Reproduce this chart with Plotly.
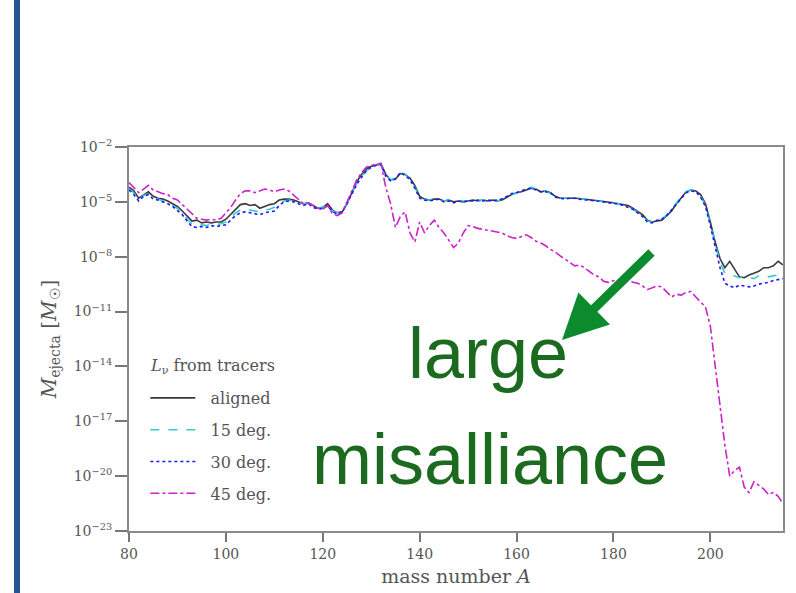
import numpy as np
import plotly.graph_objects as go

# mass number grid
mass_number = list(range(80, 216))

# log10 of ejected mass per mass number, one list per viewing angle
log_m_aligned = [
    -4.2, -4.4, -4.8, -4.6, -4.45, -4.7, -4.8, -4.85, -4.95, -5.1,
    -5.25, -5.5, -5.8, -6.05, -6.0, -6.15, -6.1, -6.15, -6.1, -6.1,
    -5.95, -5.7, -5.4, -5.15, -5.1, -5.2, -5.15, -5.35, -5.25, -5.15,
    -5.1, -4.9, -4.85, -4.85, -4.9, -5.0, -5.1, -5.05, -5.2, -5.35,
    -5.3, -5.1, -5.45, -5.6, -5.55, -5.1, -4.5, -3.9, -3.5, -3.2,
    -3.05, -3.0, -2.9, -3.5, -3.8, -3.75, -3.45, -3.5, -3.7, -4.1,
    -4.7, -4.85, -4.9, -4.85, -4.85, -4.95, -4.9, -5.0, -4.95, -5.0,
    -4.95, -4.9, -4.95, -4.9, -4.95, -4.9, -4.95, -4.9, -4.75, -4.6,
    -4.5, -4.45, -4.35, -4.25, -4.3, -4.45, -4.4, -4.5, -4.7, -4.8,
    -4.8, -4.78, -4.8, -4.82, -4.85, -4.9, -4.9, -4.95, -5.0, -5.0,
    -5.05, -5.1, -5.15, -5.2, -5.35, -5.55, -5.7, -6.0, -6.1, -6.05,
    -6.0, -5.75, -5.5, -5.1, -4.75, -4.45, -4.35, -4.4, -4.6, -5.1,
    -6.1, -7.2, -8.1, -8.6, -8.25, -8.7, -9.1, -9.15, -9.0, -8.9,
    -8.8, -8.6, -8.6, -8.5, -8.25, -8.45,
]

log_m_15deg = [
    -4.3, -4.5, -4.9, -4.65, -4.55, -4.8, -4.85, -4.95, -5.05, -5.2,
    -5.35, -5.6, -5.95, -6.2, -6.3, -6.25, -6.3, -6.2, -6.25, -6.2,
    -6.1, -5.85, -5.6, -5.45, -5.4, -5.45, -5.5, -5.55, -5.45, -5.4,
    -5.3, -5.1, -4.95, -4.9, -4.95, -5.05, -5.1, -5.1, -5.25, -5.35,
    -5.3, -5.15, -5.5, -5.6, -5.5, -5.05, -4.55, -4.0, -3.6, -3.3,
    -3.1, -3.0, -2.95, -3.55, -3.8, -3.7, -3.4, -3.5, -3.75, -4.2,
    -4.75, -4.9, -4.9, -4.85, -4.9, -4.95, -4.9, -5.0, -4.95, -4.95,
    -4.95, -4.9, -4.95, -4.9, -4.9, -4.9, -4.95, -4.85, -4.7, -4.6,
    -4.5, -4.4, -4.35, -4.2, -4.3, -4.5, -4.4, -4.55, -4.7, -4.8,
    -4.8, -4.8, -4.8, -4.85, -4.85, -4.9, -4.9, -4.95, -5.0, -5.05,
    -5.05, -5.1, -5.2, -5.25, -5.4, -5.6, -5.75, -6.05, -6.1, -6.05,
    -5.95, -5.7, -5.45, -5.05, -4.75, -4.45, -4.35, -4.45, -4.7, -5.2,
    -6.2, -7.3, -8.3, -8.9, -9.0, -9.05, -9.15, -9.1, -9.15, -9.2,
    -9.05, -9.0, -9.1, -9.05, -9.0, -9.1,
]

log_m_30deg = [
    -4.35, -4.6, -4.95, -4.7, -4.6, -4.85, -4.9, -5.0, -5.1, -5.25,
    -5.45, -5.7, -6.05, -6.35, -6.4, -6.35, -6.4, -6.3, -6.35, -6.3,
    -6.25, -6.0, -5.75, -5.6, -5.55, -5.6, -5.65, -5.7, -5.6, -5.55,
    -5.5, -5.2, -5.0, -4.95, -5.0, -5.1, -5.2, -5.1, -5.3, -5.4,
    -5.35, -5.2, -5.55, -5.65, -5.55, -5.1, -4.6, -4.05, -3.65, -3.3,
    -3.1, -3.0, -2.95, -3.6, -3.85, -3.75, -3.4, -3.55, -3.8, -4.25,
    -4.8, -4.9, -4.95, -4.9, -4.85, -5.0, -4.95, -5.05, -4.95, -5.0,
    -4.95, -4.95, -4.9, -4.95, -4.9, -4.95, -4.9, -4.85, -4.7, -4.55,
    -4.5, -4.4, -4.3, -4.25, -4.35, -4.45, -4.45, -4.5, -4.75, -4.8,
    -4.85, -4.8, -4.8, -4.85, -4.9, -4.9, -4.95, -4.95, -5.0, -5.05,
    -5.1, -5.1, -5.2, -5.3, -5.4, -5.6, -5.8, -6.1, -6.15, -6.0,
    -5.95, -5.75, -5.45, -5.1, -4.8, -4.5, -4.4, -4.45, -4.75, -5.25,
    -6.3, -7.5, -8.6, -9.45, -9.6, -9.7, -9.55, -9.6, -9.65, -9.6,
    -9.5, -9.45, -9.4, -9.3, -9.25, -9.2,
]

log_m_45deg = [
    -3.95, -4.25, -4.5, -4.3, -4.1, -4.35, -4.45, -4.55, -4.6, -4.8,
    -4.9, -5.15, -5.45, -5.7, -5.9, -5.95, -6.0, -5.95, -6.0, -5.9,
    -5.6, -5.3, -4.9, -4.55, -4.4, -4.4, -4.5, -4.4, -4.3, -4.35,
    -4.45, -4.35, -4.3, -4.4, -4.65, -4.9, -5.1, -5.05, -5.2, -5.35,
    -5.4, -5.2, -5.65, -5.75, -5.6, -5.0, -4.4, -3.8, -3.4, -3.1,
    -3.0, -2.95, -2.9, -4.2, -5.1, -6.4, -5.8, -5.55, -6.7, -7.2,
    -6.1, -6.7, -6.3, -6.0, -6.4, -6.7, -7.1, -7.5, -7.25, -6.7,
    -6.3, -6.35, -6.45, -6.5, -6.55, -6.6, -6.65, -6.7, -6.85, -6.95,
    -7.0, -6.9, -6.8, -6.95, -7.15, -7.25, -7.4, -7.6, -7.75, -7.95,
    -8.15, -8.35, -8.5, -8.45, -8.6, -8.8, -9.0, -9.1, -9.35, -9.4,
    -9.3, -9.35, -9.05, -9.2, -9.4, -9.45, -9.6, -9.8, -9.7, -9.6,
    -9.65, -9.9, -10.2, -10.05, -10.1, -9.95, -9.9, -10.2, -10.45, -10.75,
    -11.8, -14.0, -16.3, -18.3, -20.0, -19.7, -19.5, -20.6, -20.9, -20.3,
    -20.5, -20.7, -21.0, -20.9, -21.1, -21.5,
]

series_names = ["aligned", "15 deg.", "30 deg.", "45 deg."]
series_logs = [log_m_aligned, log_m_15deg, log_m_30deg, log_m_45deg]
series_colors = ["#3a3a3a", "#33cccc", "#1a1aff", "#cc22cc"]
series_dashes = ["solid", "dash", "dot", "dashdot"]

y_tick_exponents = [-2, -5, -8, -11, -14, -17, -20, -23]
x_tick_values = [80, 100, 120, 140, 160, 180, 200]

serif = "DejaVu Serif"
ink = "#555555"

fig = go.Figure()
for name, logs, color, dash in zip(series_names, series_logs, series_colors, series_dashes):
    fig.add_trace(go.Scatter(
        x=mass_number,
        y=np.power(10.0, np.array(logs)),
        mode="lines",
        name="\u00a0\u00a0" + name,
        legendgroup=name,
        line=dict(color=color, dash=dash, width=1.6),
    ))

fig.update_layout(
    width=796,
    height=593,
    margin=dict(l=129, r=13, t=147, b=62),
    paper_bgcolor="white",
    plot_bgcolor="white",
    showlegend=True,
    legend=dict(
        x=0.025, y=(531 - 381) / 384, xanchor="left", yanchor="top",
        bgcolor="rgba(0,0,0,0)",
        font=dict(family=serif, size=16, color=ink),
        itemwidth=45,
        tracegroupgap=8,
    ),
    xaxis=dict(
        range=[80, 215],
        automargin=False,
        tickvals=x_tick_values,
        ticks="outside", ticklen=9, tickwidth=1.5, tickcolor="#777",
        showline=True, linecolor="#8a8a8a", linewidth=2, mirror=True,
        showgrid=False, zeroline=False,
        tickfont=dict(family=serif, size=14, color=ink),
        title=dict(text="mass number <i>A</i>", standoff=9,
                   font=dict(family=serif, size=19, color=ink)),
    ),
    yaxis=dict(
        type="log",
        range=[-23, -2],
        automargin=False,
        tickvals=[10.0 ** e for e in y_tick_exponents],
        ticktext=[f"10<sup>−{-e}</sup>" for e in y_tick_exponents],
        ticks="outside", ticklen=12, tickwidth=1.5, tickcolor="#777",
        showline=True, linecolor="#8a8a8a", linewidth=2, mirror=True,
        showgrid=False, zeroline=False,
        tickfont=dict(family=serif, size=14, color=ink),
        title=dict(text="<i>M</i><sub>ejecta</sub> [<i>M</i><sub>☉</sub>]", standoff=12,
                   font=dict(family=serif, size=20, color=ink)),
    ),
)

# legend heading
fig.add_annotation(
    text="<i>L</i><sub>ν</sub> from tracers", xref="paper", yref="paper",
    x=(148 - 129) / 654, y=(531 - 366) / 384, xanchor="left", yanchor="middle",
    showarrow=False, font=dict(family=serif, size=16, color=ink),
)

# slide accent bar on the left edge
fig.add_shape(
    type="rect", xref="paper", yref="paper",
    x0=(14 - 129) / 654, x1=(20 - 129) / 654,
    y0=(531 - 620) / 384, y1=(531 + 20) / 384,
    fillcolor="#255592", line=dict(width=0), layer="above",
)

# callout text
callout_green = "#1b6a1f"
fig.add_annotation(
    text="large", xref="paper", yref="paper",
    x=(488 - 129) / 654, y=(531 - 353) / 384, xanchor="center", yanchor="middle",
    showarrow=False, font=dict(family="Liberation Sans", size=72, color=callout_green),
)
fig.add_annotation(
    text="misalliance", xref="paper", yref="paper",
    x=(490 - 129) / 654, y=(531 - 459) / 384, xanchor="center", yanchor="middle",
    showarrow=False, font=dict(family="Liberation Sans", size=72, color=callout_green),
)

# arrow pointing at the 45 deg. curve
fig.add_annotation(
    text="", xref="paper", yref="paper",
    x=(562 - 129) / 654, y=(531 - 340) / 384,
    ax=91, ay=-89, axref="pixel", ayref="pixel",
    showarrow=True, arrowhead=2, arrowsize=1.0, arrowwidth=9,
    arrowcolor="#0b8a2e",
)

fig.write_html("out.html")
